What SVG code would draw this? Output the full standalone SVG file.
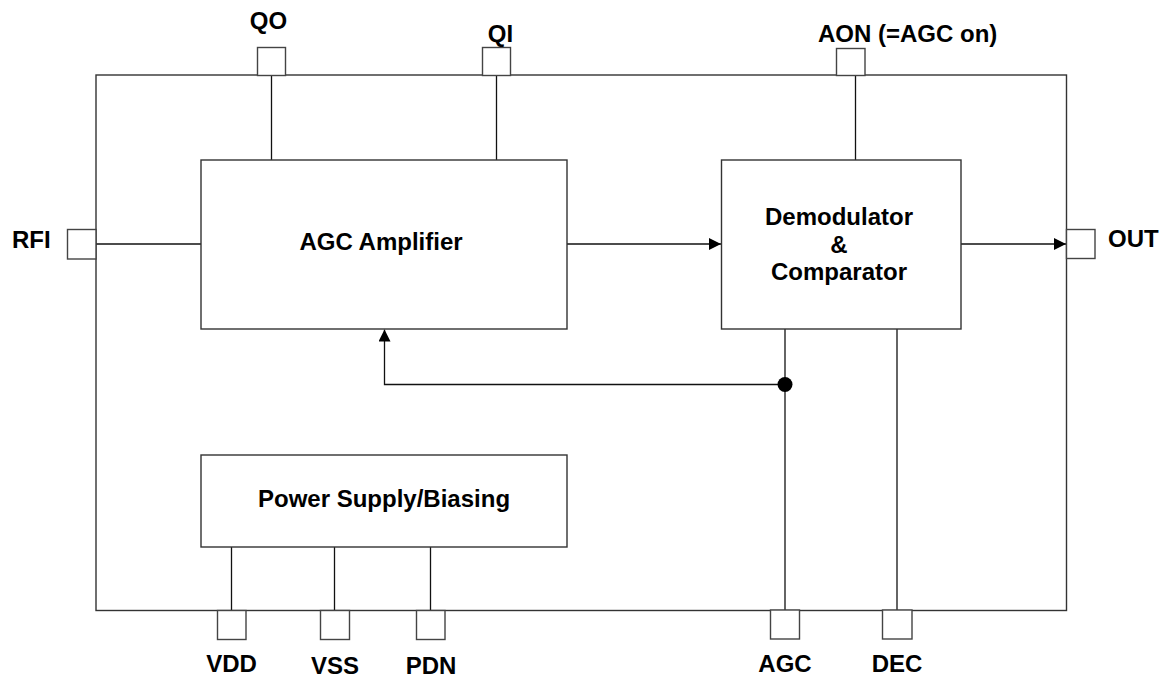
<svg xmlns="http://www.w3.org/2000/svg" width="1165" height="678" viewBox="0 0 1165 678">
<style>
.box{fill:#fff;stroke:#333;stroke-width:1.4}
.pin{fill:#fff;stroke:#444;stroke-width:1.4}
.ln{fill:none;stroke:#111;stroke-width:1.3}
.t{font-family:"Liberation Sans",Arial,sans-serif;font-weight:bold;font-size:24px;fill:#000}
.m{text-anchor:middle}
</style>
<defs>
<marker id="ah" markerWidth="12" markerHeight="12" refX="12" refY="6" orient="auto" markerUnits="userSpaceOnUse">
<path d="M0,0 L12,6 L0,12 Z" fill="#000"/>
</marker>
</defs>
<g id="chip"><rect class="box" x="96" y="75" width="970.5" height="535.5"/></g>
<g id="connectors">
<line class="ln" x1="271.5" y1="75" x2="271.5" y2="160"/>
<line class="ln" x1="496.5" y1="75" x2="496.5" y2="160"/>
<line class="ln" x1="855.5" y1="75" x2="855.5" y2="160"/>
<line class="ln" x1="96" y1="244" x2="201" y2="244"/>
<line class="ln" x1="567" y1="244" x2="721" y2="244" marker-end="url(#ah)"/>
<line class="ln" x1="961" y1="244" x2="1066" y2="244" marker-end="url(#ah)"/>
<line class="ln" x1="785" y1="329" x2="785" y2="610.5"/>
<line class="ln" x1="897" y1="329" x2="897" y2="610.5"/>
<polyline class="ln" points="785,384.5 384.5,384.5 384.5,329.5" marker-end="url(#ah)"/>
<circle cx="785" cy="384.5" r="7.5" fill="#000"/>
<line class="ln" x1="231.5" y1="546.5" x2="231.5" y2="610.5"/>
<line class="ln" x1="334.5" y1="546.5" x2="334.5" y2="610.5"/>
<line class="ln" x1="430.5" y1="546.5" x2="430.5" y2="610.5"/>
</g>
<g id="agc-amplifier"><rect class="box" x="201" y="160" width="366" height="169"/><text class="t m" x="381" y="249.5">AGC Amplifier</text></g>
<g id="demodulator"><rect class="box" x="721.5" y="160" width="239.5" height="169"/><text class="t m" x="839" y="225">Demodulator</text><text class="t m" x="839" y="253">&amp;</text><text class="t m" x="839" y="280">Comparator</text></g>
<g id="power-supply"><rect class="box" x="201" y="455" width="366" height="92"/><text class="t" x="258" y="507">Power Supply/Biasing</text></g>
<g id="pin-qo"><rect class="pin" x="257.5" y="47.5" width="28" height="28"/><text class="t m" x="268.5" y="29">QO</text></g>
<g id="pin-qi"><rect class="pin" x="482.5" y="47.5" width="28" height="28"/><text class="t m" x="500.5" y="42">QI</text></g>
<g id="pin-aon"><rect class="pin" x="836.5" y="48.5" width="28.5" height="27"/><text class="t" x="818" y="42">AON (=AGC on)</text></g>
<g id="pin-rfi"><rect class="pin" x="67.5" y="229.5" width="28.5" height="29.5"/><text class="t" x="12" y="248">RFI</text></g>
<g id="pin-out"><rect class="pin" x="1066.5" y="229.5" width="28.5" height="29"/><text class="t" x="1108" y="247">OUT</text></g>
<g id="pin-vdd"><rect class="pin" x="217.5" y="610.5" width="28.5" height="29"/><text class="t m" x="231.5" y="672">VDD</text></g>
<g id="pin-vss"><rect class="pin" x="320.5" y="610.5" width="29" height="29"/><text class="t m" x="335" y="674">VSS</text></g>
<g id="pin-pdn"><rect class="pin" x="416.5" y="610.5" width="28.5" height="29"/><text class="t m" x="431" y="674">PDN</text></g>
<g id="pin-agc"><rect class="pin" x="770.5" y="610" width="29" height="29"/><text class="t m" x="785" y="672">AGC</text></g>
<g id="pin-dec"><rect class="pin" x="882.5" y="610" width="29.5" height="29"/><text class="t m" x="897" y="672">DEC</text></g>
</svg>
